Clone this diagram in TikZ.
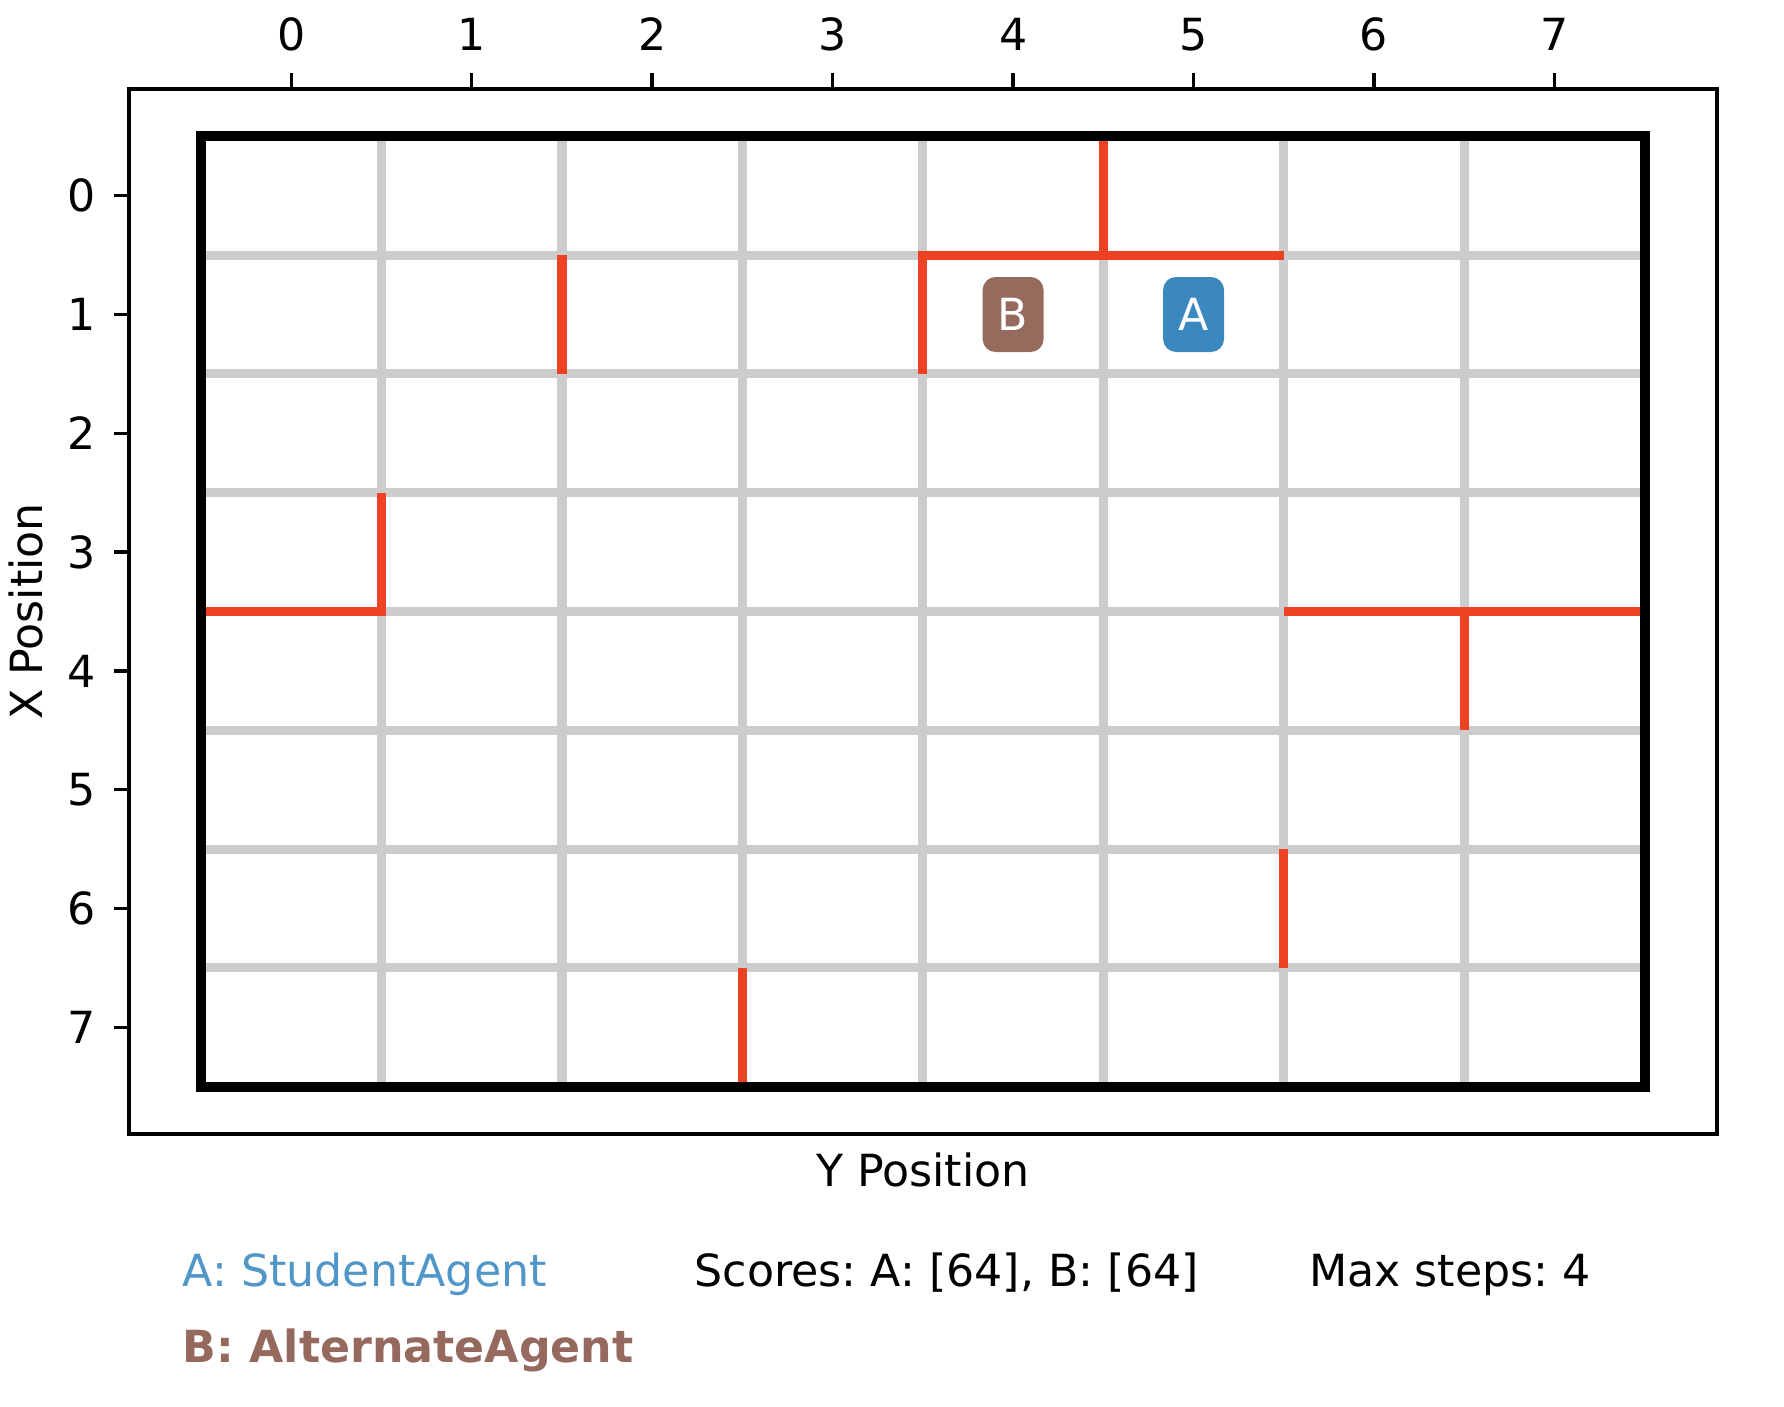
\documentclass[tikz,border=0pt]{standalone}
\usepackage{fontspec}
\setmainfont{DejaVu Sans}
\frenchspacing

\definecolor{gridgray}{RGB}{204,204,204}
\definecolor{wallred}{RGB}{238,66,36}
\definecolor{fillA}{RGB}{58,136,190}
\definecolor{fillB}{RGB}{151,106,94}
\definecolor{textA}{RGB}{80,150,200}
\definecolor{textB}{RGB}{150,105,95}

\begin{document}
\begin{tikzpicture}[
  x={(1.8045cm,0cm)},
  y={(0cm,-1.1879cm)},
  line cap=butt,
  font=\fontsize{12.6}{15}\selectfont,
  gridline/.style={gridgray,line width=2.6pt},
  wall/.style={wallred,line width=2.6pt,line join=miter},
  agent/.style={rounded corners=0.13cm,minimum width=0.61cm,
    minimum height=0.75cm,inner sep=0pt,text=white},
  caption/.style={anchor=base west,inner sep=0pt}
]
  \def\lo{-0.9}
  \def\hi{7.9}
  \def\ticklen{0.129}

  \useasboundingbox (-1.614,-1.6475) rectangle (8.272,10.19);

  \draw[line width=1pt] (\lo,\lo) rectangle (\hi,\hi);
  \foreach \k in {0,...,7} {
    \draw[line width=1pt] (\k,\lo) -- ++(0,-\ticklen);
    \draw[line width=1pt] (\lo,\k) -- ++(-0.085,0);
    \node[anchor=base,inner sep=0pt] (xt\k) at (\k,-1.226) {\k};
    \node[anchor=east,inner sep=0pt] (yt\k) at (-1.078,\k) {\k};
  }

  \foreach \k in {0.5,1.5,...,6.5} {
    \draw[gridline] (\k,-0.5) -- (\k,7.5);
    \draw[gridline] (-0.5,\k) -- (7.5,\k);
  }

  \draw[wall] (3.5,1.5) -- (3.5,0.5) -- (5.5,0.5);
  \draw[wall] (-0.5,3.5) -- (0.5,3.5) -- (0.5,2.5);
  \foreach \xa/\ya/\xb/\yb in {
    4.5/-0.5/4.5/0.5,
    1.5/0.5/1.5/1.5,
    5.5/3.5/7.5/3.5,
    6.5/3.5/6.5/4.5,
    5.5/5.5/5.5/6.5,
    2.5/6.5/2.5/7.5
  } {
    \draw[wall] (\xa,\ya) -- (\xb,\yb);
  }

  \draw[line width=2.8pt] (-0.5,-0.5) rectangle (7.5,7.5);

  \node[agent,fill=fillB] (agentB) at (4,1) {B};
  \node[agent,fill=fillA] (agentA) at (5,1) {A};

  \node[anchor=base,inner sep=0pt] (ylabel) at (3.5,8.343) {Y Position};
  \node[rotate=90,inner sep=0pt] (xlabel) at (-1.469,3.5) {X Position};

  \node[caption,text=textA] (nameA) at (-0.605,9.186) {A: StudentAgent};
  \node[caption] (scores) at (2.232,9.186) {Scores: A: [64], B: [64]};
  \node[caption] (maxsteps) at (5.637,9.186) {Max steps: 4};
  \node[caption,text=textB] (nameB) at (-0.605,9.818) {\bfseries B: AlternateAgent};
\end{tikzpicture}
\end{document}
